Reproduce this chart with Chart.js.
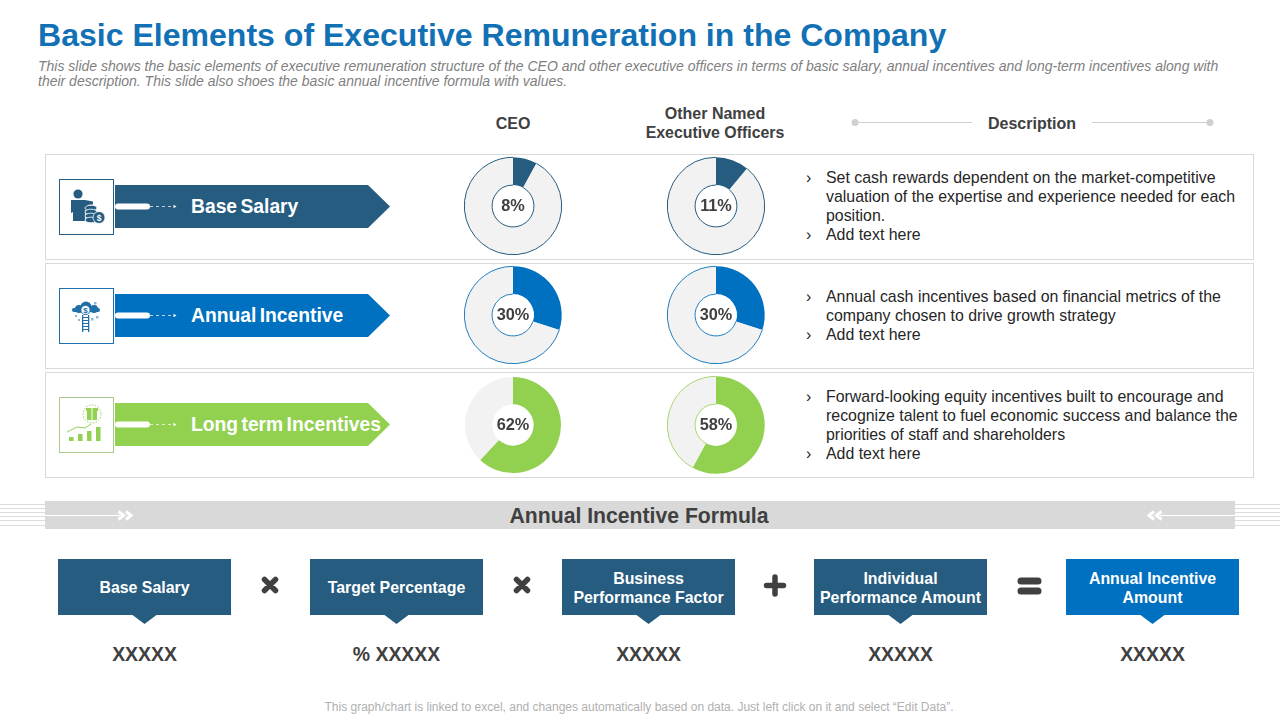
<!DOCTYPE html>
<html>
<head>
<meta charset="utf-8">
<title>Basic Elements of Executive Remuneration</title>
<script src="https://cdn.jsdelivr.net/npm/chart.js@4"></script>
<style>
html, body { margin: 0; padding: 0; background: #fff; }
#slide { position: relative; width: 1280px; height: 720px; overflow: hidden; font-family: "Liberation Sans", Arial, sans-serif; }
#slide div, #slide canvas, #slide svg { position: absolute; }
.t { white-space: nowrap; line-height: 1; }
.c { transform: translate(-50%, -50%); text-align: center; }
.m { transform: translateY(-50%); }
.row { left: 45px; width: 1207px; height: 104px; border: 1px solid #d9d9d9; box-sizing: content-box; }
.boxlabel { color: #fff; font-weight: bold; font-size: 15.9px; line-height: 19px; }
.val { color: #404040; font-weight: bold; font-size: 19.4px; top: 655px; }
</style>
</head>
<body>
<div id="slide">
  <svg id="art" width="1280" height="720" style="left:0;top:0"></svg>
</div>

<script>
// ############################### DATA ###############################

var titleText = "Basic Elements of Executive Remuneration in the Company";
var subtitleLines = [
    "This slide shows the basic elements of executive remuneration structure of the CEO and other executive officers in terms of basic salary, annual incentives and long-term incentives along with",
    "their description. This slide also shoes the basic annual incentive formula with values."
];
var footerText = "This graph/chart is linked to excel,  and changes automatically based on data. Just left click on it and select \u201cEdit Data\u201d.";

var elementNames = ["Base Salary", "Annual Incentive", "Long term Incentives"];
var ceoShare = [8, 30, 62];
var officerShare = [11, 30, 58];

var descriptions = [
    [["Set cash rewards dependent on the market-competitive", "valuation of the expertise and experience needed for each", "position."], ["Add text here"]],
    [["Annual cash incentives based on financial metrics of the", "company chosen to drive growth strategy"], ["Add text here"]],
    [["Forward-looking equity incentives built to encourage and", "recognize talent to fuel economic success and balance the", "priorities of staff and shareholders"], ["Add text here"]]
];

var formulaTitle = "Annual Incentive Formula";
var formulaTerms = [["Base Salary"], ["Target Percentage"], ["Business", "Performance Factor"], ["Individual", "Performance Amount"], ["Annual Incentive", "Amount"]];
var formulaValues = ["XXXXX", "% XXXXX", "XXXXX", "XXXXX", "XXXXX"];

// ############################### LAYOUT ###############################

var DARK = "#255c80", BLUE = "#0070c0", GREEN = "#92d050", REST = "#f2f2f2", INK = "#404040";
var rowColors = [DARK, BLUE, GREEN];
var rowTops = [154, 263, 372];
var rowMiddles = [206, 315, 424.5];
var bannerMiddles = [206.5, 315.5, 424.5];
var iconTops = [179.5, 288.5, 397.5];
var ringColors = [[DARK, DARK], ["#1f7fc0", "#1f7fc0"], [null, "#a9d56f"]];
var descTops = [169.5, 288.5, 388.5];
var boxLefts = [58, 310, 562, 814, 1066];

var slide = document.getElementById("slide");
var art = document.getElementById("art");

function addText(str, cls, css) {
    var d = document.createElement("div");
    d.className = cls;
    d.textContent = str;
    for (var k in css)
        d.style[k] = css[k];
    slide.appendChild(d);
    return d;
}

function addSvg(markup) {
    art.insertAdjacentHTML("beforeend", markup);
}

// ####################### HEADER #######################

addText(titleText, "t", {left: "38px", top: "19px", fontSize: "32.05px", fontWeight: "bold", color: "#1271b5"});
subtitleLines.forEach(function (line, i) {
    addText(line, "t", {left: "38px", top: (59 + i * 15) + "px", fontSize: "14px", fontStyle: "italic", color: "#7f7f7f"});
});

addText("CEO", "t c", {left: "513px", top: "124px", fontSize: "16px", fontWeight: "bold", color: INK});
addText("Other Named", "t c", {left: "715px", top: "114px", fontSize: "16px", fontWeight: "bold", color: INK});
addText("Executive Officers", "t c", {left: "715px", top: "133px", fontSize: "15.9px", fontWeight: "bold", color: INK});
addText("Description", "t c", {left: "1032px", top: "124px", fontSize: "16px", fontWeight: "bold", color: INK});

addSvg('<g stroke="#d0d0d0" fill="#d0d0d0"><line x1="855" y1="122.5" x2="972" y2="122.5"/><line x1="1092" y1="122.5" x2="1210" y2="122.5"/>' +
    '<circle cx="855" cy="122.5" r="3.5" stroke="none"/><circle cx="1210" cy="122.5" r="3.5" stroke="none"/></g>');

// ####################### ROWS #######################

var icons = [
    // person with coins
    '<g fill="#255c80"><circle cx="78" cy="194" r="4.6"/><path d="M71 200h14l8 1.5v3l-5 .5v5h-3v11h-12v-9l-2 1z"/>' +
    '<g stroke="#fff" stroke-width="0.8"><ellipse cx="91" cy="208" rx="6" ry="2.8"/><ellipse cx="91" cy="212" rx="6" ry="2.8"/><ellipse cx="91" cy="216" rx="6" ry="2.8"/><ellipse cx="91" cy="220" rx="6" ry="2.8"/>' +
    '<circle cx="99" cy="217.5" r="6"/></g></g><text x="99" y="220.5" font-size="8.5" font-weight="bold" text-anchor="middle" fill="#fff">$</text>',
    // cloud, coin and ladder
    '<g fill="#1f6fa8"><circle cx="79" cy="309" r="4"/><circle cx="86" cy="307" r="5.5"/><circle cx="94" cy="309" r="4"/><rect x="72" y="308" width="28" height="4" rx="2"/>' +
    '<rect x="82" y="315" width="1.3" height="17"/><rect x="88" y="315" width="1.3" height="17"/><rect x="82" y="317" width="7" height="1"/><rect x="82" y="320" width="7" height="1"/><rect x="82" y="323" width="7" height="1"/><rect x="82" y="326" width="7" height="1"/><rect x="82" y="329" width="7" height="1"/></g>' +
    '<circle cx="85.5" cy="310" r="4.6" fill="#fff" stroke="#1f6fa8"/><text x="85.5" y="313" font-size="8" font-weight="bold" text-anchor="middle" fill="#1f6fa8">$</text>' +
    '<g fill="#8fb8d6"><rect x="94" y="302" width="2.5" height="2.5"/><rect x="96" y="316" width="2.5" height="2.5"/><rect x="91" y="318" width="2.5" height="2.5"/><rect x="75" y="315" width="2" height="2"/><rect x="78" y="319" width="2" height="2"/></g>',
    // bars with gift
    '<g fill="#92d050"><rect x="69" y="437" width="4.5" height="4"/><rect x="78" y="434" width="4.5" height="7"/><rect x="87" y="431" width="4.5" height="10"/><rect x="96" y="427" width="4.5" height="14"/>' +
    '<rect x="87" y="411" width="10" height="9"/><rect x="86" y="408" width="12" height="3"/></g>' +
    '<path d="M67 432l10-5 8 1 6-4" fill="none" stroke="#92d050"/><circle cx="92" cy="414" r="9" fill="none" stroke="#92d050" stroke-dasharray="1.5 1.5"/><path d="M92 408v12" stroke="#fff"/>'
];
var iconBorders = [DARK, "#1f6fa8", "#a9c98f"];

elementNames.forEach(function (name, i) {
    var row = document.createElement("div");
    row.className = "row";
    row.style.top = rowTops[i] + "px";
    slide.appendChild(row);
});

elementNames.forEach(function (name, i) {
    var mid = bannerMiddles[i];
    var top = mid - 21.5, bottom = mid + 21.5;
    addSvg('<path d="M115 ' + top + 'H368L390 ' + mid + 'L368 ' + bottom + 'H115Z" fill="' + rowColors[i] + '"/>');
    addSvg('<rect x="115" y="' + (mid - 3) + '" width="35" height="6" rx="3" fill="#fff"/>');
    addSvg('<line x1="150" y1="' + mid + '" x2="175" y2="' + mid + '" stroke="#fff" stroke-opacity="0.8" stroke-dasharray="3 3" stroke-width="0.9"/>' +
        '<path d="M173.500 ' + (mid - 1.7) + 'L176.500 ' + mid + 'L173.500 ' + (mid + 1.7) + 'Z" fill="#fff"/>');
    addSvg('<rect x="59.5" y="' + iconTops[i] + '" width="54" height="55" fill="#fff" stroke="' + iconBorders[i] + '"/>');
    addSvg(icons[i]);
    addText(name, "t m", {left: "191px", top: (mid + 0.5) + "px", fontSize: "19.3px", fontWeight: "bold", color: "#fff", wordSpacing: "-2px"});

    var y = descTops[i];
    descriptions[i].forEach(function (para) {
        para.forEach(function (line, j) {
            if (j == 0)
                addText("\u203a", "t", {left: "806px", top: y + "px", fontSize: "15.9px", color: "#262626"});
            addText(line, "t", {left: "826px", top: y + "px", fontSize: "15.9px", color: "#262626"});
            y += 19;
        });
    });
});

// ####################### DOUGHNUTS #######################

var percentLabel = {
    id: "percentLabel",
    afterDraw: function (chart) {
        var ctx = chart.ctx;
        var arc = chart.getDatasetMeta(0).data[0];
        ctx.save();
        ctx.font = "bold 16.3px 'Liberation Sans', Arial, sans-serif";
        ctx.fillStyle = INK;
        ctx.textAlign = "center";
        ctx.textBaseline = "middle";
        ctx.fillText(chart.data.datasets[0].data[0] + "%", arc.x, arc.y + 1);
        ctx.restore();
    }
};

// outline of the pale slice only, the coloured slice stays borderless
var restOutline = {
    id: "restOutline",
    afterDatasetsDraw: function (chart, args, opts) {
        if (!opts.color)
            return;
        var ctx = chart.ctx;
        var arc = chart.getDatasetMeta(0).data[1];
        ctx.save();
        ctx.strokeStyle = opts.color;
        ctx.lineWidth = 1;
        ctx.beginPath();
        ctx.arc(arc.x, arc.y, arc.outerRadius, arc.startAngle, arc.endAngle);
        ctx.stroke();
        ctx.beginPath();
        ctx.arc(arc.x, arc.y, arc.innerRadius, arc.startAngle, arc.endAngle);
        ctx.stroke();
        ctx.restore();
    }
};

function addDoughnut(cx, cy, value, color, ring, radius, hole) {
    var size = 110;
    var canvas = document.createElement("canvas");
    canvas.width = size;
    canvas.height = size;
    canvas.style.left = (cx - size / 2) + "px";
    canvas.style.top = (cy - size / 2) + "px";
    slide.appendChild(canvas);
    new Chart(canvas, {
        type: "doughnut",
        data: {
            labels: ["Share", "Other"],
            datasets: [{data: [value, 100 - value], backgroundColor: [color, REST], borderWidth: 0}]
        },
        options: {
            responsive: false,
            animation: false,
            radius: radius,
            cutout: hole,
            plugins: {legend: {display: false}, tooltip: {enabled: false}, restOutline: {color: ring}}
        },
        plugins: [restOutline, percentLabel]
    });
}

elementNames.forEach(function (name, i) {
    addDoughnut(513, rowMiddles[i], ceoShare[i], rowColors[i], ringColors[i][0], i == 2 ? 48 : 48.7, "43%");
    addDoughnut(716, rowMiddles[i], officerShare[i], rowColors[i], ringColors[i][1], 48.7, "43%");
});

// ####################### FORMULA #######################

var stripes = "";
[504, 508, 512, 516, 520, 525].forEach(function (y) {
    stripes += '<line x1="0" y1="' + (y + 0.5) + '" x2="45" y2="' + (y + 0.5) + '"/><line x1="1235" y1="' + (y + 0.5) + '" x2="1280" y2="' + (y + 0.5) + '"/>';
});
addSvg('<g stroke="#dcdcdc">' + stripes + '</g>');
addSvg('<rect x="45" y="501" width="1190" height="28" fill="#d9d9d9"/>');
addSvg('<line x1="45" y1="515.5" x2="120" y2="515.5" stroke="#fff"/><line x1="1160" y1="515.5" x2="1235" y2="515.5" stroke="#fff"/>');
addSvg('<g fill="none" stroke="#fff" stroke-width="3"><path d="M118.500 511.500l5 4l-5 4M126 511.500l5 4l-5 4M1161.500 511.500l-5 4l5 4M1154 511.500l-5 4l5 4"/></g>');
addText(formulaTitle, "t c", {left: "639px", top: "515.5px", fontSize: "21.2px", fontWeight: "bold", color: INK});

formulaTerms.forEach(function (lines, i) {
    var left = boxLefts[i], mid = left + 86.5;
    var color = i == 4 ? BLUE : DARK;
    addSvg('<path d="M' + left + ' 559h173v56H' + (mid + 12) + 'L' + mid + ' 624L' + (mid - 12) + ' 615H' + left + 'Z" fill="' + color + '"/>');
    lines.forEach(function (line, j) {
        var y = 587 + (j - (lines.length - 1) / 2) * 19;
        addText(line, "t c boxlabel", {left: mid + "px", top: y + "px"});
    });
    addText(formulaValues[i], "t c val", {left: mid + "px"});
});

addSvg('<g stroke="#404040" stroke-width="5.5" stroke-linecap="round">' +
    '<path d="M264.5 579.5l11 11M275.5 579.5l-11 11M516.5 579.5l11 11M527.5 579.5l-11 11"/>' +
    '<path d="M775 577v17M766.500 585.500h17"/>' +
    '<path d="M1021 581h17M1021 591h17" stroke-width="7"/></g>');

addText(footerText, "t c", {left: "639px", top: "707px", fontSize: "12px", color: "#b0b0b0"});
</script>
</body>
</html>
